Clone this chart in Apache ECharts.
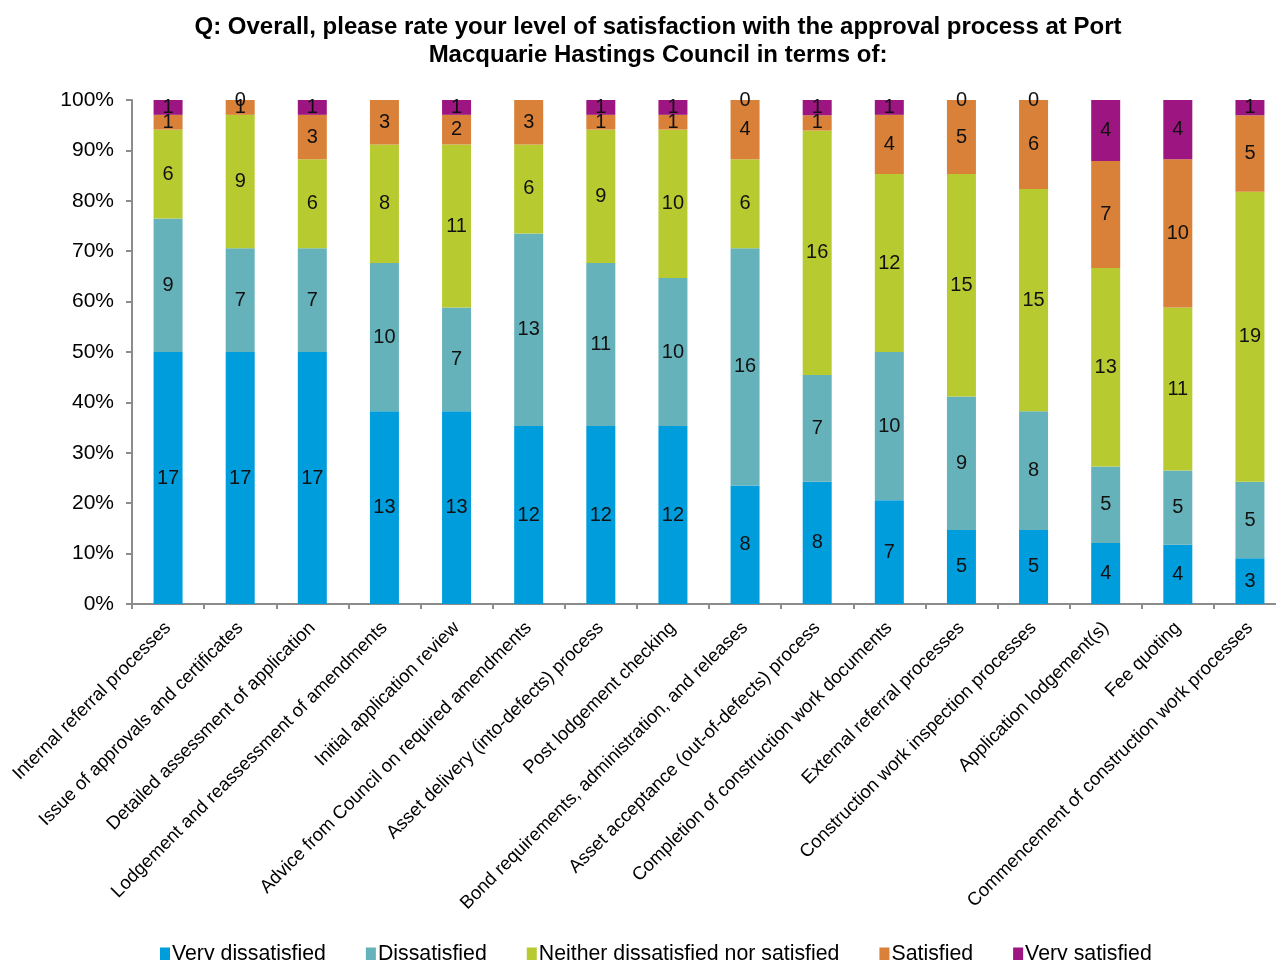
<!DOCTYPE html>
<html>
<head>
<meta charset="utf-8">
<style>
  html, body { margin: 0; padding: 0; background: #ffffff; overflow: hidden; }
  #chart { width: 1300px; height: 960px; }
</style>
<script src="https://cdn.jsdelivr.net/npm/echarts@6/dist/echarts.min.js"></script>
</head>
<body>
<div id="chart"></div>
<script>
// Survey categories (one bar each)
const categories = [
  'Internal referral processes',
  'Issue of approvals and certificates',
  'Detailed assessment of application',
  'Lodgement and reassessment of amendments',
  'Initial application review',
  'Advice from Council on required amendments',
  'Asset delivery (into-defects) process',
  'Post lodgement checking',
  'Bond requirements, administration, and releases',
  'Asset acceptance (out-of-defects) process',
  'Completion of construction work documents',
  'External referral processes',
  'Construction work inspection processes',
  'Application lodgement(s)',
  'Fee quoting',
  'Commencement of construction work processes'
];

// Response counts per rating level
const veryDissatisfied = [17, 17, 17, 13, 13, 12, 12, 12, 8, 8, 7, 5, 5, 4, 4, 3];
const dissatisfied     = [9, 7, 7, 10, 7, 13, 11, 10, 16, 7, 10, 9, 8, 5, 5, 5];
const neither          = [6, 9, 6, 8, 11, 6, 9, 10, 6, 16, 12, 15, 15, 13, 11, 19];
const satisfied        = [1, 1, 3, 3, 2, 3, 1, 1, 4, 1, 4, 5, 6, 7, 10, 5];
const verySatisfied    = [1, 0, 1, 0, 1, 0, 1, 1, 0, 1, 1, 0, 0, 4, 4, 1];

const seriesNames = ['Very dissatisfied', 'Dissatisfied', 'Neither dissatisfied nor satisfied', 'Satisfied', 'Very satisfied'];
const seriesCounts = [veryDissatisfied, dissatisfied, neither, satisfied, verySatisfied];
const seriesColors = ['#009ddd', '#66b2ba', '#b7cb31', '#d98039', '#9c1580'];

const yTicks = [0, 10, 20, 30, 40, 50, 60, 70, 80, 90, 100];

const FONT = 'Liberation Sans, Arial, sans-serif';

// Row totals for the 100% stacking
const totals = categories.map((_, i) => seriesCounts.reduce((s, arr) => s + arr[i], 0));

const series = seriesCounts.map((counts, k) => ({
  name: seriesNames[k],
  type: 'bar',
  stack: 'share',
  barWidth: 29,
  itemStyle: { color: seriesColors[k] },
  data: counts.map((c, i) => ({ value: c / totals[i] * 100, count: c })),
  label: {
    show: true,
    position: 'inside',
    color: '#111',
    fontFamily: FONT,
    fontSize: 20,
    formatter: p => String(p.data.count)
  },
  labelLayout: { hideOverlap: false }
}));

const chart = echarts.init(document.getElementById('chart'), null, { renderer: 'canvas' });
chart.setOption({
  animation: false,
  backgroundColor: '#ffffff',
  title: {
    text: 'Q: Overall, please rate your level of satisfaction with the approval process at Port\nMacquarie Hastings Council in terms of:',
    left: 653,
    textAlign: 'center',
    top: 8,
    textStyle: {
      fontFamily: FONT,
      fontWeight: 'bold',
      fontSize: 24,
      lineHeight: 28,
      color: '#000'
    }
  },
  legend: {
    bottom: -10,
    left: 155,
    itemWidth: 10,
    itemHeight: 14,
    itemGap: 40,
    icon: 'rect',
    textStyle: {
      fontFamily: FONT,
      fontSize: 21.3,
      color: '#000',
      padding: [0, 0, 0, -3]
    },
    data: seriesNames
  },
  grid: {
    left: 132,
    top: 100,
    width: 1154,
    height: 504,
    containLabel: false
  },
  xAxis: {
    type: 'category',
    data: categories,
    axisLine: { lineStyle: { color: '#8c8c8c', width: 2 } },
    axisTick: { show: true, length: 5, lineStyle: { color: '#8c8c8c', width: 2 } },
    axisLabel: {
      rotate: 45,
      interval: 0,
      margin: 21,
      fontFamily: FONT,
      fontSize: 18.5,
      color: '#000'
    }
  },
  yAxis: {
    type: 'value',
    min: yTicks[0],
    max: yTicks[yTicks.length - 1],
    interval: 10,
    axisLine: { show: true, lineStyle: { color: '#8c8c8c', width: 2 } },
    axisTick: { show: true, length: 6, lineStyle: { color: '#8c8c8c', width: 2 } },
    splitLine: { show: false },
    axisLabel: {
      formatter: '{value}%',
      margin: 18,
      fontFamily: FONT,
      fontSize: 21,
      color: '#000'
    }
  },
  series: series
});
</script>
</body>
</html>
